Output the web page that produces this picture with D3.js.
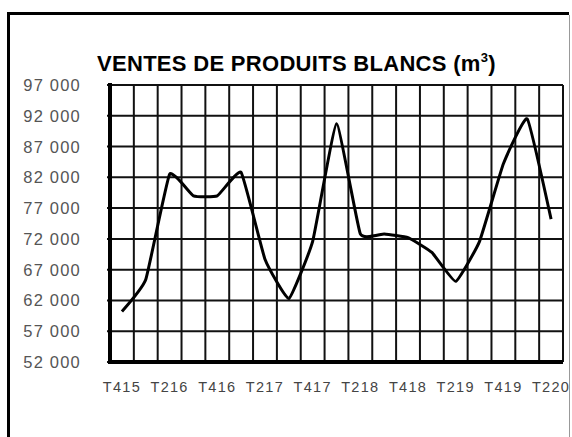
<!DOCTYPE html>
<html>
<head>
	<meta charset="utf-8">
	<title>Ventes de produits blancs</title>
	<script src="https://d3js.org/d3.v7.min.js"></script>
	<style>
		body { margin: 0; background: #fff; }
		svg { display: block; }
	</style>
</head>
<body>
	<div id="chart"></div>
	<script>
		// Data
		var quarters = ["T415", "T116", "T216", "T316", "T416", "T117", "T217", "T317", "T417", "T118",
			"T218", "T318", "T418", "T119", "T219", "T319", "T419", "T120", "T220"];
		var ventes = [60200, 65400, 82500, 79000, 79000, 82800, 68700, 62300, 71600, 90700,
			72800, 72800, 72200, 69800, 65100, 71600, 84200, 91500, 75200];
		var yTicks = [52000, 57000, 62000, 67000, 72000, 77000, 82000, 87000, 92000, 97000];
		var title = "VENTES DE PRODUITS BLANCS (m";

		var width = 572, height = 437;
		var margin = { top: 85, right: 9, bottom: 77, left: 110 };

		var svg = d3.select("#chart")
			.append("svg")
			.attr("width", width)
			.attr("height", height);

		// Frame
		svg.append("path")
			.attr("d", "M8.5,440 V13.5 H569")
			.attr("fill", "none")
			.attr("stroke", "#000")
			.attr("stroke-width", 3);
		svg.append("line")
			.attr("x1", 569.5).attr("x2", 569.5)
			.attr("y1", 15).attr("y2", 440)
			.attr("stroke", "#999")
			.attr("stroke-width", 1);

		// Scales
		var x = d3.scaleBand()
			.domain(quarters)
			.range([margin.left, width - margin.right])
			.padding(0);
		var y = d3.scaleLinear()
			.domain([d3.min(yTicks), d3.max(yTicks)])
			.range([height - margin.bottom + 2, margin.top]);

		var fmt = d3.formatLocale({ decimal: ",", thousands: " ", grouping: [3], currency: ["", ""] }).format(",");

		// Horizontal grid
		svg.append("g")
			.selectAll("line")
			.data(yTicks)
			.enter()
			.append("line")
			.attr("x1", x.range()[0] - 3)
			.attr("x2", x.range()[1])
			.attr("y1", d => y(d))
			.attr("y2", d => y(d))
			.attr("stroke", "#111")
			.attr("stroke-width", 2);

		// Vertical grid (category boundaries)
		var bounds = quarters.map(d => x(d)).concat([x.range()[1]]);
		svg.append("g")
			.selectAll("line")
			.data(bounds)
			.enter()
			.append("line")
			.attr("x1", d => d)
			.attr("x2", d => d)
			.attr("y1", y.range()[1])
			.attr("y2", y.range()[0])
			.attr("stroke", "#111")
			.attr("stroke-width", 2);

		// Axes (thick)
		svg.append("line")
			.attr("x1", x.range()[0]).attr("x2", x.range()[0])
			.attr("y1", y.range()[1] - 2).attr("y2", y.range()[0] + 2)
			.attr("stroke", "#000").attr("stroke-width", 4);
		svg.append("line")
			.attr("x1", x.range()[0] - 2).attr("x2", x.range()[1])
			.attr("y1", y.range()[0]).attr("y2", y.range()[0])
			.attr("stroke", "#000").attr("stroke-width", 4);

		// Y labels
		svg.append("g")
			.selectAll("text")
			.data(yTicks)
			.enter()
			.append("text")
			.attr("x", 81)
			.attr("y", d => y(d) + 6)
			.attr("text-anchor", "end")
			.attr("font-family", "Arial, 'Liberation Sans', sans-serif")
			.attr("font-size", 16.5)
			.attr("letter-spacing", 1.2)
			.attr("fill", "#555")
			.text(d => fmt(d));

		// X labels (every other quarter)
		svg.append("g")
			.selectAll("text")
			.data(quarters.filter((d, i) => i % 2 === 0))
			.enter()
			.append("text")
			.attr("x", d => x(d) + x.bandwidth() / 2)
			.attr("y", 392)
			.attr("text-anchor", "middle")
			.attr("font-family", "Arial, 'Liberation Sans', sans-serif")
			.attr("font-size", 14.5)
			.attr("letter-spacing", 1.3)
			.attr("fill", "#444")
			.text(d => d);

		// Line
		var line = d3.line()
			.x((d, i) => x(quarters[i]) + x.bandwidth() / 2)
			.y(d => y(d))
			.curve(d3.curveCardinal.tension(0.65));

		svg.append("path")
			.datum(ventes)
			.attr("fill", "none")
			.attr("stroke", "#000")
			.attr("stroke-width", 3)
			.attr("stroke-linejoin", "round")
			.attr("d", line);

		// Title
		var t = svg.append("text")
			.attr("x", 97)
			.attr("y", 71)
			.attr("font-family", "Arial, 'Liberation Sans', sans-serif")
			.attr("font-weight", "bold")
			.attr("font-size", 22)
			.attr("letter-spacing", 0.3)
			.attr("fill", "#000");
		t.append("tspan").text(title);
		t.append("tspan").attr("font-size", 13).attr("dy", -9).text("3");
		t.append("tspan").attr("dy", 9).text(")");
	</script>
</body>
</html>
